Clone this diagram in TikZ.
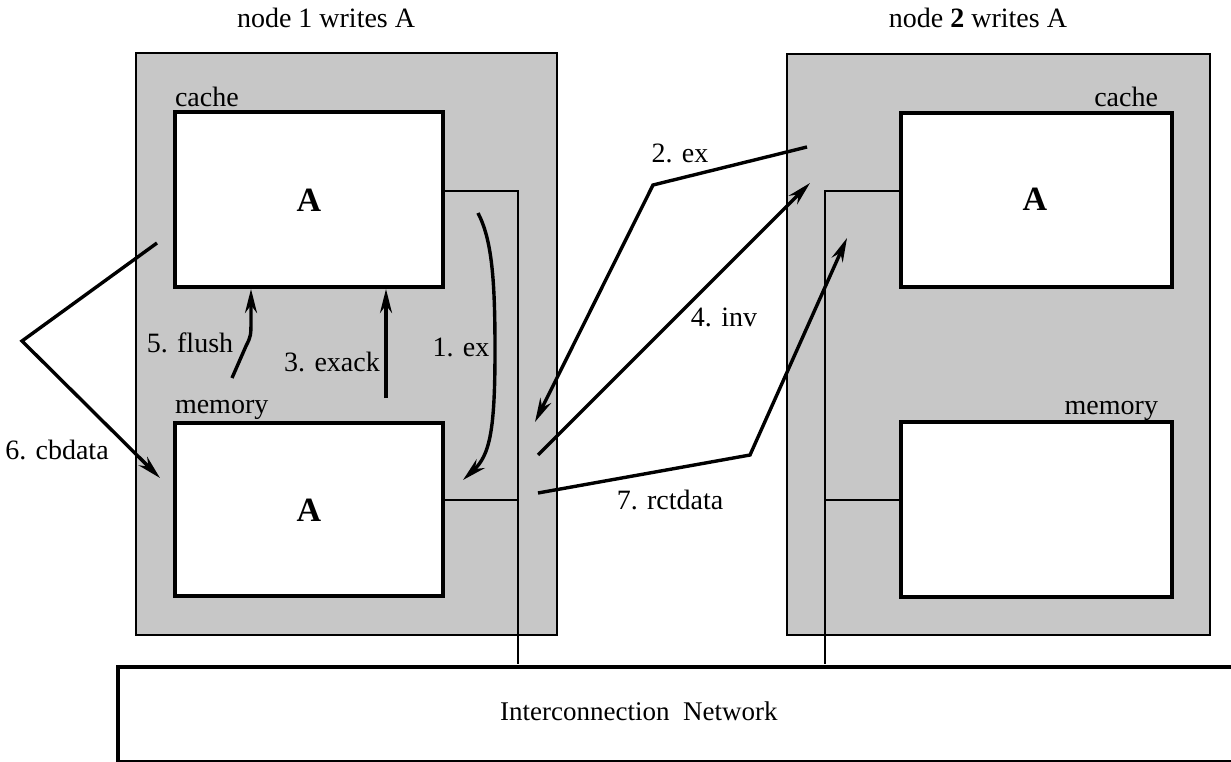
\documentclass[tikz,border=0pt]{standalone}
\usepackage{fontspec}
\setmainfont{Liberation Serif}
\usetikzlibrary{arrows.meta}
\begin{document}
\begin{tikzpicture}[x=1pt,y=-1pt,
  txt/.style={inner sep=0pt,outer sep=0pt,font=\fontsize{28}{30}\selectfont},
  bigA/.style={inner sep=0pt,font=\fontsize{34}{36}\selectfont\bfseries},
  outerbox/.style={draw,line width=2.6pt,fill=black!22,inner sep=0pt,outer sep=0pt},
  innerbox/.style={draw,line width=3.2pt,fill=white,inner sep=0pt,outer sep=0pt},
  bus/.style={line width=2.6pt},
  msg/.style={line width=3.4pt,-{Stealth[length=24pt,width=12pt]}}]
\useasboundingbox (0,0) rectangle (1231,762);
% outer node boxes
\node[outerbox,minimum width=421pt,minimum height=582pt] (n1) at (346.5,344) {};
\node[outerbox,minimum width=423pt,minimum height=581pt] (n2) at (998.5,344.5) {};
% bus lines
\coordinate (b1top) at (518,191);
\coordinate (b1mid) at (518,500);
\coordinate (b1bot) at (518,664);
\coordinate (b2top) at (825,191);
\coordinate (b2mid) at (825,500);
\coordinate (b2bot) at (825,664);
% inner boxes
\node[innerbox,minimum width=268pt,minimum height=175pt] (c1) at (309,199.5) {};
\node[innerbox,minimum width=268pt,minimum height=173pt] (m1) at (309,509.5) {};
\node[innerbox,minimum width=271pt,minimum height=174pt] (c2) at (1036.5,200) {};
\node[innerbox,minimum width=271pt,minimum height=175pt] (m2) at (1036.5,509.5) {};
\draw[bus] (c1.east |- b1top) -- (b1top) -- (b1bot);
\draw[bus] (m1.east |- b1mid) -- (b1mid);
\draw[bus] (c2.west |- b2top) -- (b2top) -- (b2bot);
\draw[bus] (m2.west |- b2mid) -- (b2mid);
% contents
\node[bigA] (a1) at (309,200) {A};
\node[bigA] (a2) at (309,510) {A};
\node[bigA] (a3) at (1035,199) {A};
\node[txt,anchor=base west] (lc1) at (175,107) {cache};
\node[txt,anchor=base west] (lm1) at (175,413) {memory};
\node[txt,anchor=base east] (lc2) at (1158,107) {cache};
\node[txt,anchor=base east] (lm2) at (1158,414) {memory};
% titles
\node[txt,anchor=base west] (t1) at (237,28) {node 1 writes A};
\node[txt,anchor=base east] (t2) at (1067,28) {node \textbf{2} writes A};
% network
\draw[line width=4.5pt] (1240,667) -- (116,667);
\draw[line width=4pt] (118,665) -- (118,762);
\draw[line width=2pt] (118,761) -- (1240,761);
\node[inner sep=0pt,anchor=base west,font=\fontsize{27}{30}\selectfont] (net) at (500,720) {Interconnection\ \ Network};
% message end points
\coordinate (e1s) at (478,213);
\coordinate (e1t) at (463,480);
\coordinate (x3s) at (386,398);
\coordinate (x3t) at (386,289);
\coordinate (f5s) at (232,378);
\coordinate (f5t) at (251,289);
\coordinate (cb6s) at (157,243);
\coordinate (cb6m) at (22,341);
\coordinate (cb6t) at (160,478);
\coordinate (e2s) at (807,147);
\coordinate (e2m) at (653,185);
\coordinate (e2t) at (535,422);
\coordinate (i4s) at (538,455);
\coordinate (i4t) at (810,183);
\coordinate (r7s) at (538,493);
\coordinate (r7m) at (750,455);
\coordinate (r7t) at (847,238);
% messages
\draw[msg] (e1s) .. controls (492,240) and (495,280) .. (495,350) .. controls (495,430) and (490,455) .. (e1t);
\draw[msg] (x3s) -- (x3t);
\draw[msg] (f5s) -- (246,346) .. controls (251,336) .. (251,318) -- (f5t);
\draw[msg] (cb6s) -- (cb6m) -- (cb6t);
\draw[msg] (e2s) -- (e2m) -- (e2t);
\draw[msg] (i4s) -- (i4t);
\draw[msg] (r7s) -- (r7m) -- (r7t);
% labels
\node[txt] (l1) at (461,347) {1. ex};
\node[txt] (l3) at (332,362) {3. exack};
\node[txt] (l5) at (190,343) {5. flush};
\node[txt] (l6) at (57,450) {6. cbdata};
\node[txt] (l2) at (680,153) {2. ex};
\node[txt] (l4) at (724,317) {4. inv};
\node[txt] (l7) at (670,500) {7. rctdata};
\end{tikzpicture}
\end{document}
